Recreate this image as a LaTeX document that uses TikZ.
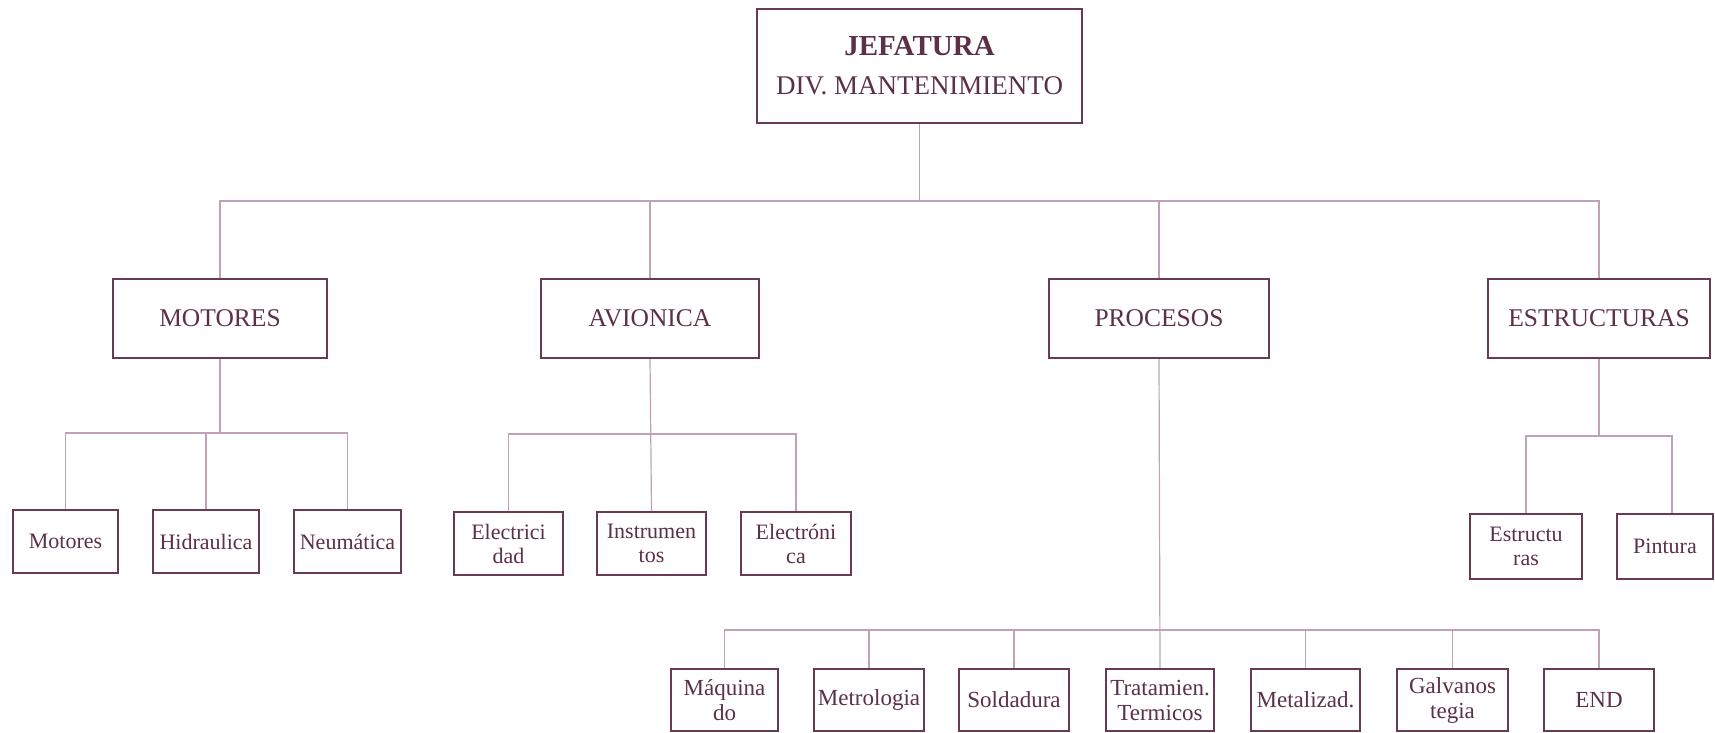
\documentclass[tikz,border=0pt]{standalone}
\usepackage{fontspec}
\setmainfont{Liberation Serif}
\definecolor{boxc}{RGB}{104,58,84}
\definecolor{txtc}{RGB}{92,48,72}
\definecolor{linec}{RGB}{192,162,182}
\begin{document}
\begin{tikzpicture}[x=1pt,y=-1pt,
  box/.style={draw=boxc,line width=2.4pt,rectangle,inner sep=0pt,
    text=txtc,align=center},
  headbox/.style={box,minimum height=79pt,font=\fontsize{25.5}{28}\selectfont},
  unitbox/.style={box,minimum height=63pt,font=\fontsize{22}{24}\selectfont},
  lowbox/.style={box,minimum height=62pt,font=\fontsize{23}{25}\selectfont},
  conn/.style={draw=linec,line width=1.2pt}]
\useasboundingbox (0,0) rectangle (1715,733);
\fill[white] (0,0) rectangle (1715,733);

% head of the division
\node[box,minimum width=325pt,minimum height=114pt,
      font=\fontsize{27}{39}\selectfont] (top) at (919.5,66)
  {{\fontsize{29}{39}\selectfont\bfseries JEFATURA}\\DIV. MANTENIMIENTO};

% departments
\node[headbox,minimum width=214pt] (mot) at (220,318.5) {MOTORES};
\node[headbox,minimum width=218pt] (avi) at (650,318.5) {AVIONICA};
\node[headbox,minimum width=220pt] (pro) at (1159,318.5) {PROCESOS};
\node[headbox,minimum width=222pt] (est) at (1599,318.5) {ESTRUCTURAS};

% sections under MOTORES
\node[unitbox,minimum width=105pt] (m1) at (65.5,541.5) {Motores};
\node[unitbox,minimum width=106pt] (m2) at (206,541.5) {Hidraulica};
\node[unitbox,minimum width=107pt] (m3) at (347.5,541.5) {Neumática};

% sections under AVIONICA
\node[unitbox,minimum width=109pt] (a1) at (508.5,543.5) {Electrici\\dad};
\node[unitbox,minimum width=109pt] (a2) at (651.5,543.5) {Instrumen\\tos};
\node[unitbox,minimum width=110pt] (a3) at (796,543.5) {Electróni\\ca};

% sections under ESTRUCTURAS
\node[unitbox,minimum width=112pt,minimum height=65pt] (e1) at (1526,546.5) {Estructu\\ras};
\node[unitbox,minimum width=96pt,minimum height=65pt] (e2) at (1665,546.5) {Pintura};

% sections under PROCESOS
\node[lowbox,minimum width=107pt] (p1) at (724.5,700) {Máquina\\do};
\node[lowbox,minimum width=110pt] (p2) at (869,700) {Metrologia};
\node[lowbox,minimum width=110pt] (p3) at (1014,700) {Soldadura};
\node[lowbox,minimum width=108pt] (p4) at (1160,700) {Tratamien.\\Termicos};
\node[lowbox,minimum width=109pt] (p5) at (1305.5,700) {Metalizad.};
\node[lowbox,minimum width=111pt] (p6) at (1452.5,700) {Galvanos\\tegia};
\node[lowbox,minimum width=110pt] (p7) at (1599,700) {END};

% bus levels
\coordinate (b0) at (0,201);
\coordinate (bm) at (0,433);
\coordinate (ba) at (0,434);
\coordinate (be) at (0,436);
\coordinate (bp) at (0,630);
\coordinate (e2in) at ([xshift=7pt]e2.north);

% head to departments
\draw[conn] (top.south) -- (top.south |- b0);
\draw[conn] (mot.north) -- (mot.north |- b0) -- (est.north |- b0) -- (est.north);
\draw[conn] (avi.north) -- (avi.north |- b0);
\draw[conn] (pro.north) -- (pro.north |- b0);

% MOTORES
\draw[conn] (mot.south) -- (mot.south |- bm);
\draw[conn] (m1.north) -- (m1.north |- bm) -- (m3.north |- bm) -- (m3.north);
\draw[conn] (m2.north) -- (m2.north |- bm);

% AVIONICA
\draw[conn] (avi.south) -- (a2.north);
\draw[conn] (a1.north) -- (a1.north |- ba) -- (a3.north |- ba) -- (a3.north);

% ESTRUCTURAS
\draw[conn] (est.south) -- (est.south |- be);
\draw[conn] (e1.north) -- (e1.north |- be) -- (e2in |- be) -- (e2in);

% PROCESOS
\draw[conn] (pro.south) -- (p4.north);
\draw[conn] (p1.north) -- (p1.north |- bp) -- (p7.north |- bp) -- (p7.north);
\foreach \n in {p2,p3,p5,p6}
  \draw[conn] (\n.north) -- (\n.north |- bp);
\end{tikzpicture}
\end{document}
